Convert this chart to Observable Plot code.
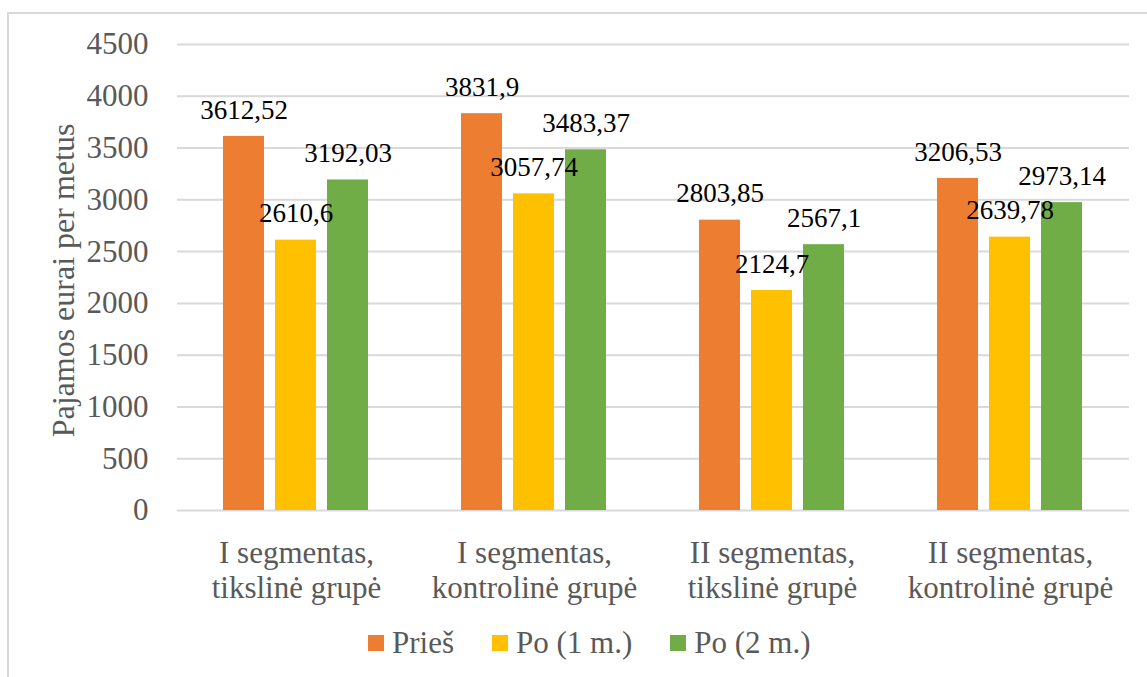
<!DOCTYPE html>
<html>
<head>
<meta charset="utf-8">
<script src="https://cdn.jsdelivr.net/npm/d3@7"></script>
<script src="https://cdn.jsdelivr.net/npm/@observablehq/plot@0.6"></script>
<style>
  html, body { margin: 0; padding: 0; background: #fff; overflow: hidden; width: 1147px; height: 677px; }
  #frame { position: absolute; left: 7px; top: 12px; width: 1200px; height: 720px; border: 2px solid #d9d9d9; box-sizing: border-box; }
  #chart { position: absolute; left: 0; top: 0; }
  #legend { position: absolute; left: 368px; top: 627px; height: 31px; display: flex; align-items: center;
            font-family: "Liberation Serif", "Times New Roman", serif; font-size: 31px; color: #595959; line-height: 1; }
  .item { display: flex; align-items: center; margin-right: 38px; }
  .sw { width: 16px; height: 16px; margin-right: 8px; }
</style>
</head>
<body>
<div id="frame"></div>
<div id="chart"></div>
<div id="legend"></div>
<script>
const groups = [
  "I segmentas,\ntikslinė grupė",
  "I segmentas,\nkontrolinė grupė",
  "II segmentas,\ntikslinė grupė",
  "II segmentas,\nkontrolinė grupė"
];
const series = ["Prieš", "Po (1 m.)", "Po (2 m.)"];
const pries = [3612.52, 3831.9, 2803.85, 3206.53];
const po1 = [2610.6, 3057.74, 2124.7, 2639.78];
const po2 = [3192.03, 3483.37, 2567.1, 2973.14];
const yTicks = [0, 500, 1000, 1500, 2000, 2500, 3000, 3500, 4000, 4500];
const yTitle = "Pajamos eurai per metus";
const colors = ["#ED7D31", "#FFC000", "#70AD47"];

const seriesValues = [pries, po1, po2];
const data = [];
groups.forEach((g, i) => {
  series.forEach((s, j) => {
    data.push({group: g, series: s, value: seriesValues[j][i]});
  });
});
const fmt = v => String(v).replace(".", ",");
const font = '"Liberation Serif", "Times New Roman", serif';

const chart = Plot.plot({
  width: 1147,
  height: 610,
  marginTop: 44,
  marginBottom: 100,
  marginLeft: 176,
  marginRight: 18,
  style: {fontFamily: font, background: "transparent", overflow: "visible"},
  fx: {domain: groups, padding: 0, label: null},
  x: {domain: series, paddingInner: 0.21, paddingOuter: 0.87, axis: null},
  y: {domain: [0, 4500], label: null},
  color: {domain: series, range: colors},
  marks: [
    Plot.gridY(yTicks, {stroke: "#d9d9d9", strokeOpacity: 1, strokeWidth: 2}),
    Plot.axisY({ticks: yTicks, tickSize: 0, tickPadding: 29, fontSize: 31, fontFamily: font, fill: "#595959", tickFormat: d => String(d), label: null}),
    Plot.axisFx({anchor: "bottom", tickSize: 0, tickPadding: 27, fontSize: 31, fontFamily: font, fill: "#595959", label: null, lineHeight: 1.15}),
    Plot.barY(data, {fx: "group", x: "series", y: "value", fill: "series"}),
    Plot.text(data, {fx: "group", x: "series", y: "value", text: d => fmt(d.value), dy: -26.5, fontSize: 27, fontFamily: font, fill: "#000", lineAnchor: "middle"}),
    Plot.text([groups[0]], {fx: d => d, text: () => yTitle, frameAnchor: "left", textAnchor: "middle", rotate: -90, dx: -114, dy: 3, fontSize: 32, fontFamily: font, fill: "#595959", lineAnchor: "middle"})
  ]
});
document.getElementById("chart").appendChild(chart);

const legend = document.getElementById("legend");
series.forEach((s, j) => {
  const item = document.createElement("div");
  item.className = "item";
  const sw = document.createElement("div");
  sw.className = "sw";
  sw.style.background = colors[j];
  const t = document.createElement("span");
  t.textContent = s;
  item.appendChild(sw);
  item.appendChild(t);
  legend.appendChild(item);
});
</script>
</body>
</html>
